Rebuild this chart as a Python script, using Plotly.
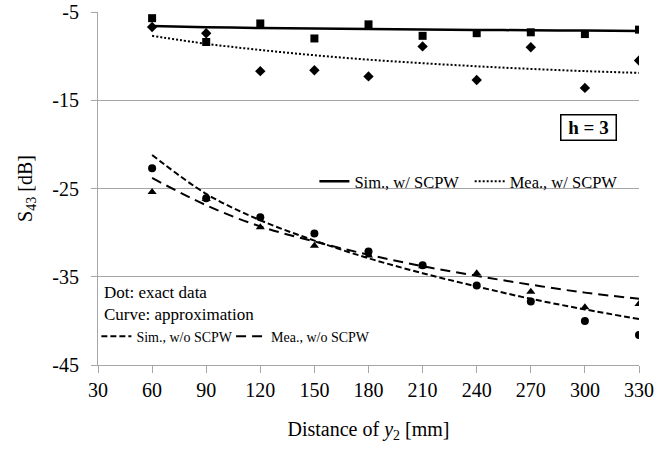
import plotly.graph_objects as go

# ---- data ----
distance = [60, 90, 120, 150, 180, 210, 240, 270, 300, 330]

sim_w_dots = [-5.7, -8.4, -6.3, -8.0, -6.4, -7.7, -7.4, -7.3, -7.5, -7.0]
mea_w_dots = [-6.7, -7.4, -11.7, -11.6, -12.3, -8.9, -12.7, -9.0, -13.6, -10.5]
sim_wo_dots = [-22.7, -26.1, -28.25, -30.1, -32.15, -33.7, -36.0, -37.8, -40.0, -41.6]
mea_wo_dots = [-25.4, -26.2, -29.4, -31.5, -32.6, -33.8, -34.6, -36.7, -38.45, -38.1]

sim_w_curve = [-6.6, -6.72, -6.81, -6.88, -6.94, -6.99, -7.03, -7.07, -7.11, -7.15]
mea_w_curve = [-7.7, -8.6, -9.3, -9.9, -10.4, -10.8, -11.15, -11.45, -11.7, -11.9]
sim_wo_curve = [-21.2, -25.6, -28.6, -30.9, -32.9, -34.6, -36.1, -37.5, -38.7, -39.8]
mea_wo_curve = [-23.8, -26.9, -29.3, -31.0, -32.5, -33.8, -34.9, -35.9, -36.8, -37.5]

x_ticks = [30, 60, 90, 120, 150, 180, 210, 240, 270, 300, 330]
y_ticks = [-5, -15, -25, -35, -45]
y_tick_text = ["-5", "-15", "-25", "-35", "-45"]

FONT = "Liberation Serif, Times New Roman, serif"
GRID = "#A6A6A6"

fig = go.Figure()

# curves
fig.add_trace(go.Scatter(x=distance, y=sim_w_curve, mode="lines", name="Sim., w/ SCPW",
                         line=dict(color="black", width=2.5, shape="spline"), legend="legend"))
fig.add_trace(go.Scatter(x=distance, y=mea_w_curve, mode="lines", name="Mea., w/ SCPW",
                         line=dict(color="black", width=2, dash="2px,2px", shape="spline"), legend="legend2"))
fig.add_trace(go.Scatter(x=distance, y=sim_wo_curve, mode="lines", name="Sim., w/o SCPW",
                         line=dict(color="black", width=2, dash="6px,3px", shape="spline"), legend="legend3"))
fig.add_trace(go.Scatter(x=distance, y=mea_wo_curve, mode="lines", name="Mea., w/o SCPW",
                         line=dict(color="black", width=2, dash="10px,6px", shape="spline"), legend="legend4"))

# dots
fig.add_trace(go.Scatter(x=distance, y=sim_w_dots, mode="markers", showlegend=False,
                         marker=dict(symbol="square", size=8, color="black")))
fig.add_trace(go.Scatter(x=distance, y=mea_w_dots, mode="markers", showlegend=False,
                         marker=dict(symbol="diamond", size=8, color="black")))
fig.add_trace(go.Scatter(x=distance, y=sim_wo_dots, mode="markers", showlegend=False,
                         marker=dict(symbol="circle", size=8, color="black")))
fig.add_trace(go.Scatter(x=distance, y=mea_wo_dots, mode="markers", showlegend=False,
                         marker=dict(symbol="triangle-up", size=8, color="black")))

def leg(x, y, size):
    return dict(orientation="h", x=x, xanchor="left", y=y, yanchor="middle",
                bgcolor="rgba(0,0,0,0)", font=dict(family=FONT, size=size), itemwidth=30)

fig.update_layout(
    width=660, height=454,
    margin=dict(l=98, r=21, t=12, b=89),
    paper_bgcolor="white", plot_bgcolor="white",
    font=dict(family=FONT, size=16, color="black"),
    xaxis=dict(range=[30, 330], tickvals=x_ticks, ticks="outside", ticklen=7,
               tickcolor=GRID, showline=True, linecolor=GRID, linewidth=1,
               showgrid=False, zeroline=False, tickfont=dict(family=FONT, size=20),
               automargin=False,
               title=dict(text="Distance of <i>y</i><sub>2</sub> [mm]", font=dict(family=FONT, size=20), standoff=21)),
    yaxis=dict(range=[-45, -5], tickvals=y_ticks, ticktext=y_tick_text, ticks="outside",
               ticklen=6, tickcolor=GRID, showline=True, linecolor=GRID, linewidth=1,
               showgrid=True, gridcolor=GRID, gridwidth=1, zeroline=False,
               tickfont=dict(family=FONT, size=20), ticklabelstandoff=8, automargin=False,
               title=dict(text="S<sub>43</sub> [dB]", font=dict(family=FONT, size=20), standoff=14)),
    legend=leg(0.400, 0.52, 16.5),
    legend2=leg(0.687, 0.52, 16.5),
    legend3=leg(-0.003, 0.08, 14),
    legend4=leg(0.246, 0.08, 14),
    showlegend=True,
)

fig.add_annotation(xref="paper", yref="paper", x=0.007, y=0.204, xanchor="left", yanchor="middle",
                   text="Dot: exact data", showarrow=False, font=dict(family=FONT, size=17))
fig.add_annotation(xref="paper", yref="paper", x=0.007, y=0.142, xanchor="left", yanchor="middle",
                   text="Curve: approximation", showarrow=False, font=dict(family=FONT, size=17))
fig.add_annotation(xref="paper", yref="paper", x=0.906, y=0.673, xanchor="center", yanchor="middle",
                   text="<b>h = 3</b>", showarrow=False, font=dict(family=FONT, size=19),
                   width=52, height=22, borderpad=1,
                   bordercolor="black", borderwidth=1.5, bgcolor="white")

fig.write_html("out.html", config={"displayModeBar": False},
               post_script="document.body.style.margin='0';")
